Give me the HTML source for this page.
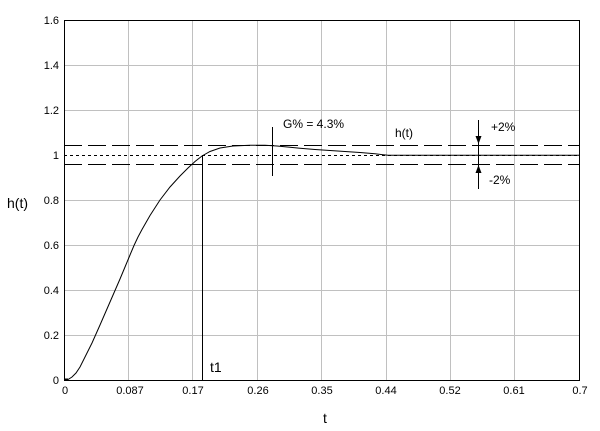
<!DOCTYPE html>
<html>
<head>
<meta charset="utf-8">
<style>
html,body{margin:0;padding:0;background:#fff;}
svg{display:block;}
text{font-family:"Liberation Sans",Arial,sans-serif;fill:#000;}
</style>
</head>
<body>
<svg width="600" height="431" viewBox="0 0 600 431" xmlns="http://www.w3.org/2000/svg">
<rect x="0" y="0" width="600" height="431" fill="#fff"/>
<!-- grid -->
<g stroke="#c0c0c0" stroke-width="1" shape-rendering="crispEdges">
<line x1="128.5" y1="20" x2="128.5" y2="380"/>
<line x1="192.5" y1="20" x2="192.5" y2="380"/>
<line x1="257.5" y1="20" x2="257.5" y2="380"/>
<line x1="321.5" y1="20" x2="321.5" y2="380"/>
<line x1="386.5" y1="20" x2="386.5" y2="380"/>
<line x1="450.5" y1="20" x2="450.5" y2="380"/>
<line x1="514.5" y1="20" x2="514.5" y2="380"/>
<line x1="64" y1="65.5" x2="579" y2="65.5"/>
<line x1="64" y1="110.5" x2="579" y2="110.5"/>
<line x1="64" y1="200.5" x2="579" y2="200.5"/>
<line x1="64" y1="245.5" x2="579" y2="245.5"/>
<line x1="64" y1="290.5" x2="579" y2="290.5"/>
<line x1="64" y1="335.5" x2="579" y2="335.5"/>
</g>
<!-- reference lines -->
<g stroke="#000" stroke-width="1" shape-rendering="crispEdges" fill="none">
<line x1="64" y1="145.5" x2="579" y2="145.5" stroke-dasharray="18 6"/>
<line x1="64" y1="164.5" x2="579" y2="164.5" stroke-dasharray="18 6"/>
<line x1="64" y1="155.5" x2="579" y2="155.5" stroke-dasharray="3 3"/>
</g>
<!-- curve -->
<polyline fill="none" stroke="#000" stroke-width="1" points="64,380 68,379.5 72,377 76,373 80,367 84,359 88,351 92,343 96,334 100,325 105,313.5 110,302 115,290.5 120,279 125,267 130,255 134,245.5 138,237 142,229.5 150,215.5 160,200 170,187 180,176 188,168 195,161.5 202,156 210,151.5 220,148 233,146 250,145.3 265,145.3 277,146 290,147.3 300,148.3 315,149.5 330,150.5 345,151.5 360,152.5 375,153.8 388,155.3 579,155.3"/>
<line x1="64" y1="379.5" x2="68" y2="379.5" stroke="#000" stroke-width="2"/>
<!-- t1 vertical -->
<line x1="202.5" y1="155" x2="202.5" y2="380" stroke="#000" stroke-width="1" shape-rendering="crispEdges"/>
<!-- G% marker -->
<line x1="272.5" y1="127" x2="272.5" y2="176" stroke="#000" stroke-width="1" shape-rendering="crispEdges"/>
<!-- arrows -->
<line x1="478.5" y1="120" x2="478.5" y2="189" stroke="#000" stroke-width="1" shape-rendering="crispEdges"/>
<polygon points="475.5,136 481.5,136 478.5,144" fill="#000"/>
<polygon points="475.5,173 481.5,173 478.5,165" fill="#000"/>
<!-- frame -->
<rect x="64.5" y="20.5" width="515" height="360" fill="none" stroke="#000" stroke-width="1" shape-rendering="crispEdges"/>
<!-- y tick labels -->
<g font-size="11" text-anchor="end">
<text x="59" y="24">1.6</text>
<text x="59" y="69">1.4</text>
<text x="59" y="114">1.2</text>
<text x="59" y="159">1</text>
<text x="59" y="204">0.8</text>
<text x="59" y="249">0.6</text>
<text x="59" y="294">0.4</text>
<text x="59" y="339">0.2</text>
<text x="59" y="384">0</text>
</g>
<!-- x tick labels -->
<g font-size="11" text-anchor="middle">
<text x="65" y="394">0</text>
<text x="130" y="394">0.087</text>
<text x="193" y="394">0.17</text>
<text x="258" y="394">0.26</text>
<text x="322" y="394">0.35</text>
<text x="386" y="394">0.44</text>
<text x="450" y="394">0.52</text>
<text x="514" y="394">0.61</text>
<text x="580" y="394">0.7</text>
</g>
<!-- axis titles -->
<text x="7" y="208" font-size="14">h(t)</text>
<text x="325" y="423" font-size="14" text-anchor="middle">t</text>
<!-- annotations -->
<text x="210" y="372" font-size="14">t1</text>
<text x="283" y="128" font-size="12">G% = 4.3%</text>
<text x="395" y="137" font-size="12">h(t)</text>
<text x="491" y="131" font-size="12">+2%</text>
<text x="489" y="184" font-size="12">-2%</text>
</svg>
</body>
</html>
